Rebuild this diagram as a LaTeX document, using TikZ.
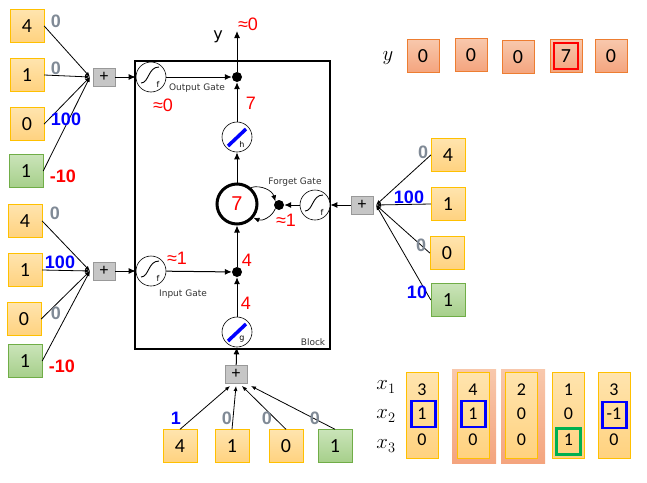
\documentclass[tikz,border=0pt]{standalone}
\usepackage{fontspec}
\setmainfont{Liberation Sans}
\newfontfamily\numfont{Carlito}
\newfontfamily\smallfont{DejaVu Sans}
\usetikzlibrary{arrows.meta,calc}
\definecolor{ytop}{HTML}{FFE4AE}
\definecolor{ybot}{HTML}{FFD27F}
\definecolor{yline}{HTML}{FFC000}
\definecolor{gtop}{HTML}{CAE4B9}
\definecolor{gbot}{HTML}{A6CF8A}
\definecolor{gline}{HTML}{70AD47}
\definecolor{stop}{HTML}{F8C8AC}
\definecolor{sbot}{HTML}{F4A47E}
\definecolor{sline}{HTML}{ED7D31}
\definecolor{wgray}{RGB}{128,138,150}
\definecolor{pgray}{HTML}{C6C6C6}
\definecolor{hlgreen}{HTML}{00B050}
\tikzset{
  ybox/.style={draw=yline, top color=ytop, bottom color=ybot, minimum width=34pt,
    minimum height=33pt, inner sep=0pt, font=\numfont\fontsize{20}{20}\selectfont},
  gbox/.style={ybox, draw=gline, top color=gtop, bottom color=gbot},
  sbox/.style={ybox, draw=sline, top color=stop, bottom color=sbot, minimum width=32pt},
  colbox/.style={draw=yline, top color=ytop, bottom color=ybot, minimum width=32pt,
    minimum height=86pt, inner sep=0pt},
  backbox/.style={top color=stop, bottom color=sbot, minimum width=44pt,
    minimum height=94pt, inner sep=0pt},
  mval/.style={font=\numfont\fontsize{18}{18}\selectfont, inner sep=0pt},
  hl/.style={draw=#1, line width=2.5pt, minimum width=24pt, minimum height=26pt, inner sep=0pt},
  plusbox/.style={draw=black!40, fill=pgray, minimum width=22pt, minimum height=18pt,
    inner sep=0pt, font=\fontsize{16}{16}\selectfont},
  wlab/.style={font=\bfseries\fontsize{18}{18}\selectfont, inner sep=0pt},
  vlab/.style={text=red, font=\fontsize{18}{18}\selectfont, inner sep=0pt},
  glab/.style={font=\smallfont\fontsize{9}{9}\selectfont, text=black!80, inner sep=0pt},
  dot/.style={circle, fill=black, minimum size=10pt, inner sep=0pt},
  sig/.style={circle, draw, fill=white, minimum size=30pt, inner sep=0pt, line width=0.6pt,
    path picture={
      \draw[line width=0.9pt, shift={(path picture bounding box.center)}]
        (-10pt,-6pt) .. controls (-2pt,-6pt) and (-3pt,10pt) .. (8pt,10pt);
      \node[font=\smallfont\fontsize{8}{8}\selectfont, inner sep=0pt]
        at ($(path picture bounding box.center)+(7pt,-7pt)$) {f};}},
  squash/.style={circle, draw, fill=white, minimum size=30pt, inner sep=0pt, line width=0.6pt,
    path picture={
      \draw[blue, line width=3.5pt, shift={(path picture bounding box.center)}]
        (-9pt,-9pt) -- (9pt,8pt);
      \node[font=\smallfont\fontsize{8}{8}\selectfont, inner sep=0pt]
        at ($(path picture bounding box.center)+(5pt,-7pt)$) {#1};}},
  arr/.style={-{Latex[length=7pt,width=6pt]}, line width=1pt},
  feed/.style={-{Latex[length=5pt,width=4pt]}, line width=0.8pt},
  loop/.style={-{Latex[length=6pt,width=5pt]}, line width=0.7pt}
}
\begin{document}
\begin{tikzpicture}[x=1pt,y=-1pt]
\useasboundingbox (0,0) rectangle (647,482);
\draw[line width=1.2pt] (135,61) rectangle (330,349);
\node (blocklab) [glab] at (313,342) {Block};
% output gate
\foreach \v/\s/\px/\py [count=\i] in {4/ybox/27/26, 1/ybox/27/75, 0/ybox/27/124, 1/gbox/26/171}
  \node (out\i) [\s] at (\px,\py) {\v};
\coordinate (jout) at (90,77);
\foreach \i in {1,...,4} \draw[feed] (out\i.east) -- (jout);
\foreach \t/\c/\px/\py [count=\i] in {0/wgray/56/21, 0/wgray/56/68, 100/blue/66/119, -10/red/63/176}
  \node (wout\i) [wlab, text=\c] at (\px,\py) {\t};
\node (plusout) [plusbox] at (104,77) {+};
\node (sigout) [sig] at (151,77) {};
\node (mulout) [dot] at (237,77) {};
\node (outlab) [glab] at (197,88) {Output Gate};
\node (aout) [vlab] at (163,105) {≈0};
\node (hval) [vlab] at (251,103) {7};
\coordinate (ytip) at (237,31);
\node (ylab) [font=\smallfont\fontsize{16}{16}\selectfont] at (218,37) {y};
\node (ayval) [vlab] at (248,24) {≈0};
\draw[arr] (plusout) -- (sigout);
\draw[arr] (sigout) -- (mulout);
\draw[arr] (mulout) -- (ytip);
% cell
\node (tanhh) [squash=h] at (237,137) {};
\node (cell) [circle, draw, line width=3pt, minimum size=40pt, inner sep=0pt, text=red,
  font=\fontsize{20}{20}\selectfont] at (237,204) {7};
\draw[arr] (tanhh) -- (mulout);
\draw[arr] (cell) -- (tanhh);
% forget gate
\node (mulfg) [dot] at (279,205) {};
\node (sigfg) [sig] at (315,205) {};
\node (fglab) [glab] at (295,182) {Forget Gate};
\node (afg) [vlab] at (286,220) {≈1};
\draw[loop] (cell.50) to[bend left=45] (mulfg.north west);
\draw[loop] (mulfg.south west) to[bend left=45] (cell.-40);
\node (plusfg) [plusbox] at (362,205) {+};
\draw[arr] (sigfg) -- (mulfg);
\draw[arr] (plusfg) -- (sigfg);
\foreach \v/\s/\px/\py [count=\i] in {4/ybox/448/155, 1/ybox/448/204, 0/ybox/447/253, 1/gbox/448/300}
  \node (fg\i) [\s] at (\px,\py) {\v};
\coordinate (jfg) at (376,205);
\foreach \i in {1,...,4} \draw[feed] (fg\i.west) -- (jfg);
\foreach \t/\c/\px/\py [count=\i] in {0/wgray/423/152, 100/blue/409/197, 0/wgray/421/245, 10/blue/417/292}
  \node (wfg\i) [wlab, text=\c] at (\px,\py) {\t};
% input gate
\foreach \v/\s/\px/\py [count=\i] in {4/ybox/25/221, 1/ybox/25/270, 0/ybox/24/319, 1/gbox/25/361}
  \node (in\i) [\s] at (\px,\py) {\v};
\coordinate (jin) at (90,271);
\foreach \i in {1,...,4} \draw[feed] (in\i.east) -- (jin);
\foreach \t/\c/\px/\py [count=\i] in {0/wgray/55/213, 100/blue/60/262, 0/wgray/56/313, -10/red/62/366}
  \node (win\i) [wlab, text=\c] at (\px,\py) {\t};
\node (plusin) [plusbox] at (104,271) {+};
\node (sigin) [sig] at (151,271) {};
\node (mulin) [dot] at (237,272) {};
\node (inlab) [glab] at (183,294) {Input Gate};
\node (ain) [vlab] at (177,258) {≈1};
\node (prodval) [vlab] at (247,260) {4};
\node (gval) [vlab] at (246,303) {4};
\draw[arr] (plusin) -- (sigin);
\draw[arr] (sigin) -- (mulin);
\draw[arr] (mulin) -- (cell);
% candidate
\node (tanhg) [squash=g] at (237,332) {};
\node (pluscand) [plusbox] at (236,374) {+};
\draw[arr] (tanhg) -- (mulin);
\draw[arr] (pluscand) -- (tanhg);
\foreach \v/\s/\px/\tx [count=\i] in {4/ybox/180/230, 1/ybox/232/236, 0/ybox/286/242, 1/gbox/335/251} {
  \node (cand\i) [\s] at (\px,446) {\v};
  \coordinate (ct\i) at (\tx,386);
  \draw[feed] (cand\i.north) -- (ct\i);
}
\foreach \t/\c/\px [count=\i] in {1/blue/176, 0/wgray/227, 0/wgray/267, 0/wgray/315}
  \node (wcand\i) [wlab, text=\c] at (\px,418) {\t};
% output sequence
\node (yname) [font=\fontsize{21}{21}\selectfont] at (388,58) {$y$};
\foreach \v/\px/\py [count=\i] in {0/423/56, 0/471/55, 0/518/57, 7/566/56, 0/611/56}
  \node (yr\i) [sbox] at (\px,\py) {\v};
\node (yhl) [hl=red] at (yr4) {};
% input sequence
\foreach \r/\py in {1/387, 2/416, 3/446}
  \node (xname\r) [font=\fontsize{21}{21}\selectfont] at (386,\py) {$x_\r$};
\node (back2) [backbox] at (474,416) {};
\node (back3) [backbox] at (523,416) {};
\foreach \a/\b/\c/\px [count=\i] in {3/1/0/422, 4/1/0/473, 2/0/0/521.5, 1/0/1/568.5, 3/-1/0/614} {
  \node (col\i) [colbox] at (\px,415) {};
  \node (v\i a) [mval] at (\px,390) {\a};
  \node (v\i b) [mval] at (\px,414) {\b};
  \node (v\i c) [mval] at (\px,440) {\c};
}
\node (hl1) [hl=blue] at (423.5,414) {};
\node (hl2) [hl=blue] at (473.5,414) {};
\node (hl5) [hl=blue] at (614.5,415) {};
\node (hl4) [hl=hlgreen] at (568.5,441.5) {};
\end{tikzpicture}
\end{document}
